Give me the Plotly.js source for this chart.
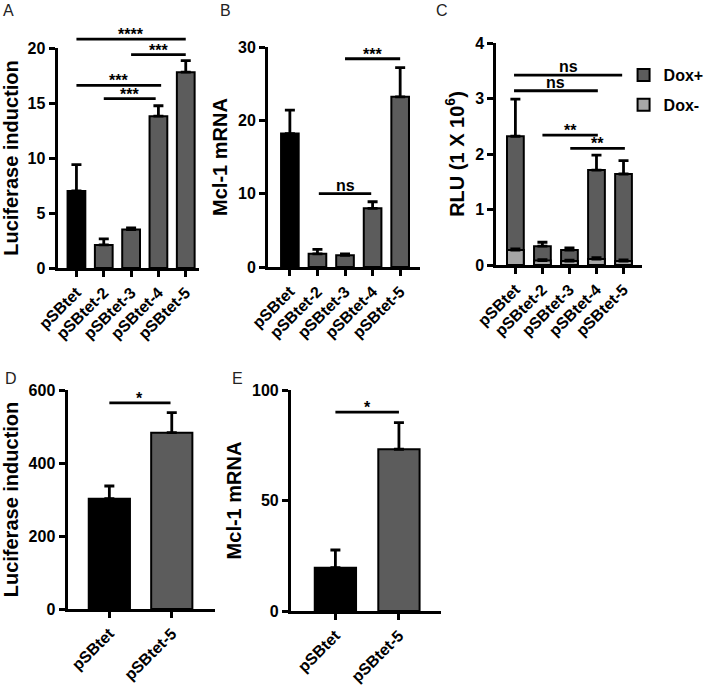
<!DOCTYPE html>
<html><head><meta charset="utf-8">
<script src="https://cdn.plot.ly/plotly-3.0.1.min.js"></script>
<style>html,body{margin:0;padding:0;background:#fff}</style>
</head><body><div id="chart" style="width:709px;height:686px"></div>
<script>
// ---------- data ----------
const catsFull = ['pSBtet', 'pSBtet-2', 'pSBtet-3', 'pSBtet-4', 'pSBtet-5'];
const catsPair = ['pSBtet', 'pSBtet-5'];

// A: Luciferase induction
const lucA = [7.0, 2.1, 3.5, 13.8, 17.8];
const lucASd = [2.4, 0.55, 0.15, 0.95, 1.05];
// B: Mcl-1 mRNA
const mclB = [18.2, 1.8, 1.6, 8.0, 23.2];
const mclBSd = [3.2, 0.6, 0.2, 0.9, 4.0];
// C: RLU (1 x 10^6)
const rluDoxPlus = [2.32, 0.34, 0.27, 1.71, 1.64];
const rluDoxPlusSd = [0.67, 0.07, 0.04, 0.27, 0.24];
const rluDoxMinus = [0.27, 0.08, 0.07, 0.11, 0.07];
const rluDoxMinusSd = [0.02, 0.015, 0.015, 0.02, 0.02];
// D: Luciferase induction
const lucD = [302, 483];
const lucDSd = [35, 55];
// E: Mcl-1 mRNA
const mclE = [19.6, 73.2];
const mclESd = [8, 12];

// significance brackets (category index from / to, level, label)
const sigAFrom = [0, 2, 0, 1];
const sigATo = [4, 4, 3.1, 2.9];
const sigALevel = [20.8, 19.4, 16.6, 15.4];
const sigALabel = ['****', '***', '***', '***'];

const sigBFrom = [1.05, 2.0];
const sigBTo = [2.95, 4.0];
const sigBLevel = [10.0, 28.4];
const sigBLabel = ['ns', '***'];

const sigCFrom = [-0.05, -0.05, 1.0, 2.03];
const sigCTo = [3.95, 3.05, 3.05, 4.05];
const sigCLevel = [3.42, 3.14, 2.34, 2.10];
const sigCLabel = ['ns', 'ns', '**', '**'];

const sigDFrom = [0]; const sigDTo = [0.98]; const sigDLevel = [565]; const sigDLabel = ['*'];
const sigEFrom = [0]; const sigETo = [1]; const sigELevel = [90]; const sigELabel = ['*'];

// ---------- styles ----------
const FONT = 'Liberation Sans, Arial, Helvetica, sans-serif';
const BLACK = '#000000';
const DARK = '#5c5c5c';
const LIGHT = '#a6a6a6';

function colorsFor(cats) { return cats.map((c, i) => i === 0 ? BLACK : DARK); }
function errUp(sd, thick) {
  return {type: 'data', symmetric: false, array: sd, arrayminus: sd.map(() => 0),
          color: BLACK, thickness: thick || 2.8, width: 5, visible: true};
}
function barTrace(cats, vals, sd, xa, ya, width) {
  return {type: 'bar', x: cats, y: vals, xaxis: xa, yaxis: ya, width: width,
          marker: {color: colorsFor(cats), line: {color: BLACK, width: 2}},
          error_y: errUp(sd), showlegend: false, hoverinfo: 'x+y'};
}

const traces = [
  barTrace(catsFull, lucA, lucASd, 'x', 'y', 0.65),
  barTrace(catsFull, mclB, mclBSd, 'x2', 'y2', 0.64),
  {type: 'bar', name: 'Dox+', legendgroup: 'p', x: catsFull, y: rluDoxPlus, xaxis: 'x3', yaxis: 'y3', width: 0.62,
   marker: {color: DARK, line: {color: BLACK, width: 2}}, error_y: errUp(rluDoxPlusSd)},
  {type: 'bar', name: 'Dox-', legendgroup: 'm', x: catsFull, y: rluDoxMinus, xaxis: 'x3', yaxis: 'y3', width: 0.62,
   marker: {color: LIGHT, line: {color: BLACK, width: 2}}, error_y: errUp(rluDoxMinusSd, 3)},
  barTrace(catsPair, lucD, lucDSd, 'x4', 'y4', 0.66),
  barTrace(catsPair, mclE, mclESd, 'x5', 'y5', 0.65)
];

const W = 709, H = 686;
function xd(a, b) { return [a / W, b / W]; }
function yd(bottom, top) { return [1 - bottom / H, 1 - top / H]; }

const TICKFONT = {family: FONT, size: 16, weight: 700, color: BLACK};
function xAxis(domain, range, anchor) {
  return {domain: domain, range: range, anchor: anchor, type: 'category',
          showline: true, linewidth: 3, linecolor: BLACK, mirror: false,
          ticks: 'outside', ticklen: 6, tickwidth: 3, tickcolor: BLACK,
          tickangle: -45, showgrid: false, zeroline: false,
          tickfont: TICKFONT};
}
function yAxis(domain, range, dtick, title, anchor) {
  return {domain: domain, range: range, anchor: anchor, dtick: dtick, tick0: 0,
          showline: true, linewidth: 3, linecolor: BLACK,
          ticks: 'outside', ticklen: 6, tickwidth: 3, tickcolor: BLACK,
          showgrid: false, zeroline: false,
          tickfont: TICKFONT,
          title: {text: '<b>' + title + '</b>', standoff: 6, font: {family: FONT, size: 20, weight: 700, color: BLACK}}};
}

const layout = {
  width: W, height: H,
  margin: {l: 0, r: 0, t: 0, b: 0},
  paper_bgcolor: '#ffffff', plot_bgcolor: 'rgba(0,0,0,0)',
  barmode: 'overlay',
  font: {family: FONT, color: BLACK},
  xaxis: xAxis(xd(58, 200), [-0.69, 4.47], 'y'),
  yaxis: yAxis(yd(268, 48), [0, 20], 5, 'Luciferase induction', 'x'),
  xaxis2: xAxis(xd(270, 423), [-0.79, 4.72], 'y2'),
  yaxis2: yAxis(yd(267, 47), [0, 30], 10, 'Mcl-1 mRNA', 'x2'),
  xaxis3: xAxis(xd(500, 647), [-0.70, 4.70], 'y3'),
  yaxis3: yAxis(yd(265, 43), [0, 4], 1, 'RLU (1 X 10<sup>6</sup>)', 'x3'),
  xaxis4: xAxis(xd(68, 217), [-0.67, 1.70], 'y4'),
  yaxis4: yAxis(yd(609, 390), [0, 600], 200, 'Luciferase induction', 'x4'),
  xaxis5: xAxis(xd(293, 444), [-0.70, 1.66], 'y5'),
  yaxis5: yAxis(yd(611, 390), [0, 100], 50, 'Mcl-1 mRNA', 'x5'),
  showlegend: true,
  legend: {x: 628 / W, y: 1 - 58 / H, xanchor: 'left', yanchor: 'top', itemwidth: 30,
           bgcolor: 'rgba(0,0,0,0)', borderwidth: 0, traceorder: 'grouped', tracegroupgap: 6,
           font: {family: FONT, size: 16, weight: 700, color: BLACK}},
  shapes: [], annotations: []
};

function addSig(xa, ya, rangeMax, from, to, level, label) {
  for (let i = 0; i < from.length; i++) {
    const yv = level[i] / rangeMax;
    layout.shapes.push({type: 'line', xref: xa, yref: ya + ' domain', x0: from[i], x1: to[i], y0: yv, y1: yv,
                        line: {color: BLACK, width: 2.8}});
    const isStar = label[i].indexOf('*') >= 0;
    layout.annotations.push({xref: xa, yref: ya + ' domain', x: (from[i] + to[i]) / 2, y: yv,
                             yanchor: 'bottom', xanchor: 'center', showarrow: false,
                             text: '<b>' + label[i] + '</b>', borderpad: 0,
                             yshift: isStar ? -5 : -1,
                             font: {family: FONT, size: 16, color: BLACK, weight: 700}});
  }
}
addSig('x', 'y', 20, sigAFrom, sigATo, sigALevel, sigALabel);
addSig('x2', 'y2', 30, sigBFrom, sigBTo, sigBLevel, sigBLabel);
addSig('x3', 'y3', 4, sigCFrom, sigCTo, sigCLevel, sigCLabel);
addSig('x4', 'y4', 600, sigDFrom, sigDTo, sigDLevel, sigDLabel);
addSig('x5', 'y5', 100, sigEFrom, sigETo, sigELevel, sigELabel);

const panelLabels = [['A', 1, 0], ['B', 220, 0], ['C', 437, 0], ['D', 3, 368], ['E', 232, 368]];
panelLabels.forEach(p => layout.annotations.push({xref: 'paper', yref: 'paper', x: p[1] / W, y: 1 - p[2] / H,
  xanchor: 'left', yanchor: 'top', showarrow: false, text: p[0],
  font: {family: FONT, size: 16, color: '#222'}}));

Plotly.newPlot('chart', traces, layout, {displayModeBar: false, staticPlot: true});
</script>
</body></html>
